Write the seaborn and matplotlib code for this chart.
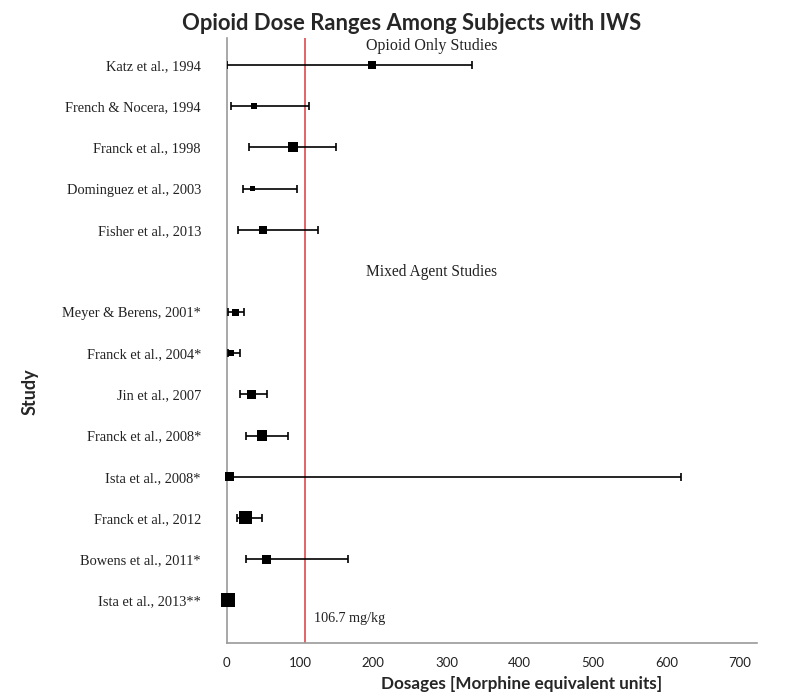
import matplotlib
matplotlib.use("Agg")
import matplotlib.pyplot as plt
import seaborn as sns
import pandas as pd
import numpy as np

# Opioid dose ranges (morphine equivalent units) per study
studies = [
    "Katz et al., 1994", "French & Nocera, 1994", "Franck et al., 1998",
    "Dominguez et al., 2003", "Fisher et al., 2013",
    "Meyer & Berens, 2001*", "Franck et al., 2004*", "Jin et al., 2007",
    "Franck et al., 2008*", "Ista et al., 2008*", "Franck et al., 2012",
    "Bowens et al., 2011*", "Ista et al., 2013**",
]
dose_mid = [198, 37, 90, 35, 49, 12, 6, 34, 48, 4.5, 26, 55, 2]
dose_low = [0, 5.5, 30, 22, 16, 2, 2, 18, 26, 0, 14, 26, np.nan]
dose_high = [335, 112, 149, 96, 124, 23, 18, 55, 84, 620, 48, 166, np.nan]
# relative study weight, shown as marker width
study_weight = [7.5, 6, 10, 5, 8, 7, 6, 9, 10.5, 9, 13, 9, 14]
group_labels = ["Opioid Only Studies", "Mixed Agent Studies"]
threshold = 106.7

# Row positions: one blank row separates the two groups
rows = list(range(0, 5)) + list(range(6, 14))

df = pd.DataFrame({
    "study": studies, "mid": dose_mid, "low": dose_low, "high": dose_high,
    "weight": study_weight, "row": rows,
})
df["area"] = df["weight"].astype(float) ** 2 * 0.52

sns.set_theme(style="white")
plt.rcParams["font.family"] = ["Lato", "DejaVu Sans"]

fig = plt.figure(figsize=(7.86, 7.0), dpi=100)
ax = fig.add_axes([0.2884, 0.0814, 0.675, 0.8643])

# error bars (range of doses)
rng = df.dropna(subset=["low", "high"])
ax.errorbar(rng["mid"], rng["row"],
            xerr=[rng["mid"] - rng["low"], rng["high"] - rng["mid"]],
            fmt="none", ecolor="black", elinewidth=1.2, capsize=3.2,
            capthick=1.2, zorder=3)

# square markers sized by study weight
amin, amax = df["area"].min(), df["area"].max()
sns.scatterplot(data=df, x="mid", y="row", size="area",
                sizes=(amin, amax), size_norm=(amin, amax),
                marker="s", color="black", edgecolor="black", linewidth=0,
                legend=False, ax=ax, zorder=4, clip_on=False)

# reference dose line
ax.axvline(threshold, color="#dd4a4f", linewidth=1.2, zorder=2)
ax.text(threshold + 12, 13.45, f"{threshold} mg/kg", family="Liberation Serif",
        fontsize=10.2, ha="left", va="center", color="#222222")

# group headers
serif = dict(family="Liberation Serif", color="#222222", ha="center",
             va="center")
ax.text(280, -0.47, group_labels[0], fontsize=11.5, **serif)
ax.text(279, 5.02, group_labels[1], fontsize=11.2, **serif)

ax.set_xlim(0, 724)
ax.set_ylim(14.04, -0.66)
ax.set_xticks(range(0, 701, 100))
ax.set_yticks(rows)
ax.set_yticklabels(studies, family="Liberation Serif", fontsize=10.4,
                   color="#222222")
ax.tick_params(axis="y", length=0, pad=18.5)
ax.tick_params(axis="x", direction="out", length=4, width=1, color="#9a9a9a",
               labelsize=9.5, labelcolor="#222222", pad=6)
for side in ["top", "right"]:
    ax.spines[side].set_visible(False)
for side in ["left", "bottom"]:
    ax.spines[side].set_color("#9a9a9a")
    ax.spines[side].set_linewidth(1.2)

ax.set_xlabel("")
ax.set_ylabel("")
fig.text(0.664, 0.011, "Dosages [Morphine equivalent units]", fontsize=12.3,
         fontweight="bold", ha="center", va="bottom")
fig.text(0.038, 0.44, "Study", rotation=90, fontsize=13, fontweight="bold",
         ha="center", va="center")
fig.suptitle("Opioid Dose Ranges Among Subjects with IWS", x=0.523, y=0.982,
             fontsize=15.8, fontweight="bold", va="top")

fig.savefig("out.png", dpi=100)
